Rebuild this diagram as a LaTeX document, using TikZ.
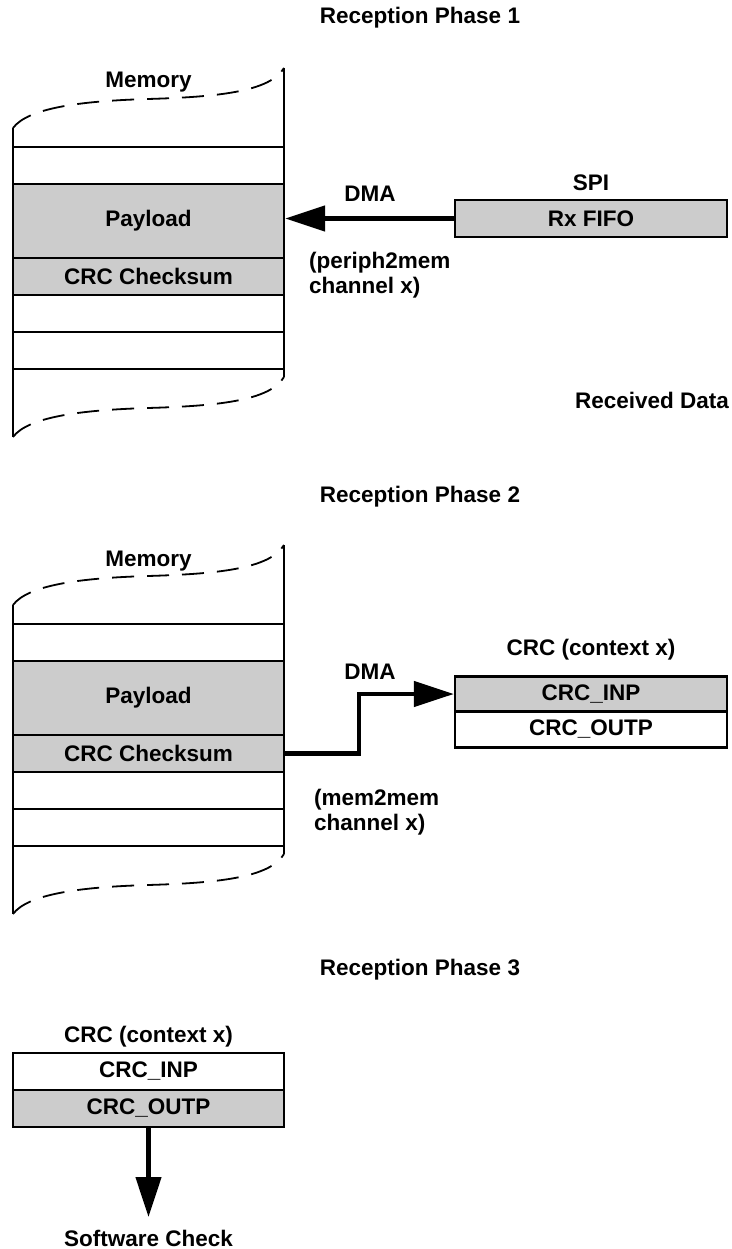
\documentclass[tikz,border=0pt]{standalone}
\usepackage{fontspec}
\setmainfont{Liberation Sans}
\usetikzlibrary{arrows.meta}
\definecolor{boxgray}{RGB}{204,204,204}
\tikzset{
  lbl/.style={font=\bfseries\fontsize{22.5}{25}\selectfont, inner sep=0pt},
  row/.style={draw, line width=2.2pt, minimum width=271pt, minimum height=37pt, inner sep=0pt, font=\bfseries\fontsize{22.5}{25}\selectfont},
  memline/.style={line width=2.4pt},
  wave/.style={line width=1.8pt, dash pattern=on 22pt off 13pt},
  bigarrow/.style={line width=4.5pt, -{Triangle[length=40pt,width=25pt]}},
}
\begin{document}
\begin{tikzpicture}[x=1pt,y=-1pt]
\useasboundingbox (0,0) rectangle (731,1249);
% ---------- Phase 1 ----------
\node[lbl] (t1) at (420,18) {Reception Phase 1};
\node[lbl] (m1) at (148.5,82) {Memory};
\node[row] (r1a) at (148.5,165.5) {};
\node[row, fill=boxgray, minimum height=74pt] (pay1) at (148.5,221) {Payload};
\node[row, fill=boxgray] (chk1) at (148.5,276.5) {CRC Checksum};
\node[row] (r1b) at (148.5,313.5) {};
\node[row] (r1c) at (148.5,350.5) {};
\draw[memline] (13,128) -- (13,437);
\draw[memline] (284,68) -- (284,377);
\draw[wave] (13,128) .. controls (28,108) and (80,101) .. (148,99) .. controls (216,97) and (270,92) .. (284,68);
\draw[wave] (13,437) .. controls (28,417) and (80,410) .. (148,408) .. controls (216,406) and (270,401) .. (284,377);
\node[lbl] (spi) at (591,183) {SPI};
\node[row, fill=boxgray, minimum width=272pt] (rx) at (591,218.5) {Rx FIFO};
\draw[bigarrow] (rx.west) -- (rx.west -| pay1.east);
\node[lbl] (dma1) at (370,194) {DMA};
\node[lbl, align=left, anchor=west] (ch1) at (309,275) {(periph2mem\\channel x)};
\node[lbl] (rd) at (652,400) {Received Data};
% ---------- Phase 2 ----------
\node[lbl] (t2) at (420,497) {Reception Phase 2};
\node[lbl] (m2) at (148.5,561) {Memory};
\begin{scope}[shift={(0,477)}]
\node[row] (r2a) at (148.5,165.5) {};
\node[row, fill=boxgray, minimum height=74pt] (pay2) at (148.5,221) {Payload};
\node[row, fill=boxgray] (chk2) at (148.5,276.5) {CRC Checksum};
\node[row] (r2b) at (148.5,313.5) {};
\node[row] (r2c) at (148.5,350.5) {};
\draw[memline] (13,128) -- (13,437);
\draw[memline] (284,68) -- (284,377);
\draw[wave] (13,128) .. controls (28,108) and (80,101) .. (148,99) .. controls (216,97) and (270,92) .. (284,68);
\draw[wave] (13,437) .. controls (28,417) and (80,410) .. (148,408) .. controls (216,406) and (270,401) .. (284,377);
\end{scope}
\node[lbl] (crc2) at (591,650) {CRC (context x)};
\node[row, fill=boxgray, minimum width=272pt, minimum height=35pt] (inp2) at (591,694) {CRC\_INP};
\node[row, minimum width=272pt, minimum height=36pt] (outp2) at (591,729.5) {CRC\_OUTP};
\draw[bigarrow] (chk2.east) -- ++(74,0) |- (inp2.west);
\node[lbl] (dma2) at (370,672) {DMA};
\node[lbl, align=left, anchor=west] (ch2) at (314,812) {(mem2mem\\channel x)};
% ---------- Phase 3 ----------
\node[lbl] (t3) at (420,970) {Reception Phase 3};
\node[lbl] (crc3) at (148.5,1037) {CRC (context x)};
\node[row, minimum height=37pt] (inp3) at (148.5,1071.5) {CRC\_INP};
\node[row, fill=boxgray, minimum height=37pt] (outp3) at (148.5,1108.5) {CRC\_OUTP};
\coordinate (tip3) at (148.5,1217);
\draw[bigarrow] (outp3.south) -- (tip3);
\node[lbl] (sw) at (148.5,1238) {Software Check};
\end{tikzpicture}
\end{document}
